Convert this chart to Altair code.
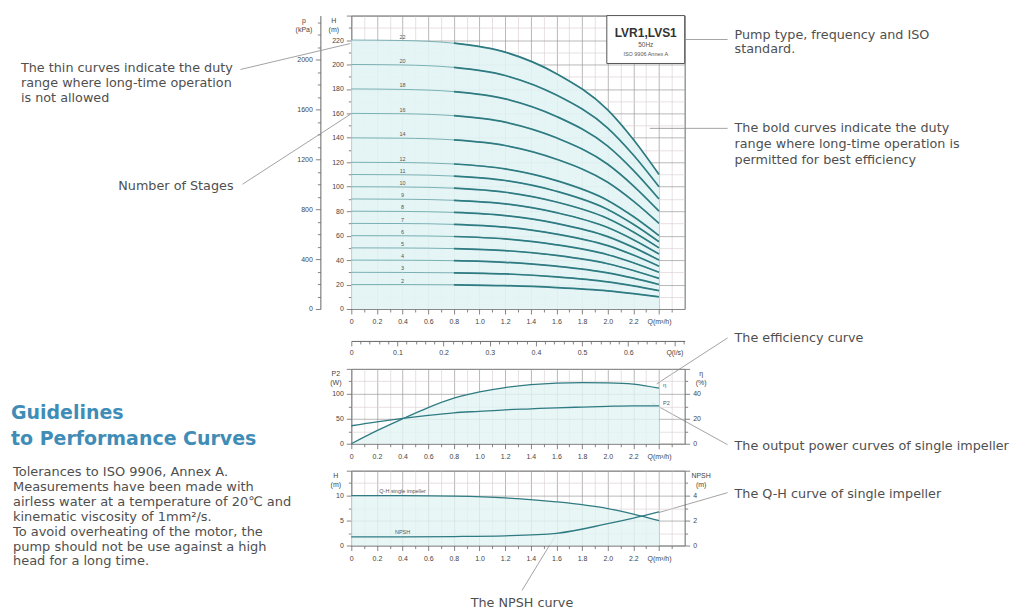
import altair as alt
import pandas as pd

FONT = "Liberation Sans"
AFONT = "DejaVu Sans"
TEAL = "#2f7b82"
TEAL_THIN = "#5f9fa4"
GRID_MAJ = "#9a9a9a"
GRID_MIN = "#ddd3d6"
TXT = "#4f4f4f"
HEAD = "#3f8db6"
OX, OY = 351, 14  # top-left of the main plot area on the page

# ---------------- data ----------------
q_main = [0, 0.4, 0.8, 1.2, 1.6, 2.0, 2.2, 2.4]
stage_counts = [2, 3, 4, 5, 6, 7, 8, 9, 10, 11, 12, 14, 16, 18, 20, 22]
h_2 = [20, 20.0, 19.8, 19.1, 17.5, 14.8, 12.6, 10]
h_3 = [30, 29.9, 29.6, 28.7, 26.3, 22.2, 18.9, 15]
h_4 = [40, 39.9, 39.5, 38.2, 35, 29.6, 25.2, 20]
h_5 = [50, 49.9, 49.4, 47.8, 43.8, 37, 31.5, 25]
h_6 = [60, 59.9, 59.3, 57.3, 52.5, 44.4, 37.8, 30]
h_7 = [70, 69.9, 69.2, 66.9, 61.3, 51.8, 44.1, 35]
h_8 = [80, 79.8, 79.0, 76.4, 70, 59.2, 50.4, 40]
h_9 = [90, 89.8, 88.9, 86, 78.8, 66.6, 56.7, 45]
h_10 = [100, 99.8, 98.8, 95.5, 87.5, 74, 63, 50]
h_11 = [110, 109.8, 108.7, 105.1, 96.3, 81.4, 69.3, 55]
h_12 = [120, 119.8, 118.6, 114.6, 105, 88.8, 75.6, 60]
h_14 = [140, 139.7, 138.3, 133.7, 122.5, 103.6, 88.2, 70]
h_16 = [160, 159.7, 158.1, 152.8, 140, 118.4, 100.8, 80]
h_18 = [180, 179.6, 177.8, 171.9, 157.5, 133.2, 113.4, 90]
h_20 = [200, 199.6, 197.6, 191, 175, 148, 126, 100]
h_22 = [220, 219.6, 217.4, 210.1, 192.5, 162.8, 138.6, 110]
head_curves = [h_2, h_3, h_4, h_5, h_6, h_7, h_8, h_9, h_10, h_11, h_12,
               h_14, h_16, h_18, h_20, h_22]

q_pw = [0, 0.2, 0.4, 0.6, 0.8, 1.0, 1.2, 1.4, 1.6, 1.8, 2.0, 2.2, 2.4]
p2_w = [36, 44, 51, 57, 62, 65, 68, 70, 72, 73.5, 75, 76, 76]
eta_pct = [0, 10.5, 20, 29, 36.5, 41.5, 45, 47.3, 48.6, 49, 48.8, 47.8, 44.5]

h_single = [10, 9.98, 9.88, 9.55, 8.75, 7.4, 6.3, 5.0]
npsh_m = [0.7, 0.7, 0.72, 0.78, 0.98, 1.75, 2.2, 2.7]

# tick positions / labels
q_ticks = [round(0.1 * i, 1) for i in range(26)]
h_ticks = list(range(0, 241, 10))
kpa_ticks = list(range(0, 2301, 100))
lps_ticks = [round(0.02 * i, 2) for i in range(37)]
p2_ticks = list(range(0, 151, 25))
eta_ticks = list(range(0, 61, 10))
hs_ticks = [0, 2.5, 5, 7.5, 10, 12.5, 15]
npsh_ticks = [0, 1, 2, 3, 4, 5, 6]

rows = []
for n, hs in zip(stage_counts, head_curves):
    for q, h in zip(q_main, hs):
        rows.append({"stages": n, "Q": q, "H": h})
curves = pd.DataFrame(rows)
pw_df = pd.DataFrame({"Q": q_pw, "P2": p2_w, "eta": eta_pct})
single_df = pd.DataFrame({"Q": q_main, "H1": h_single, "NPSH": npsh_m})
aux_df = pd.DataFrame({"lps": [lps_ticks[0]], "kpa": [kpa_ticks[0]]})
BLANK = alt.InlineData(values=[{"k": 0}])


def cond(test, a, b):
    return {"condition": {"test": test, "value": a}, "value": b}


NBSP = "\u00a0"
Q_LABEL = NBSP * 5 + "Q(m³/h)"


def q_axis():
    return alt.Axis(
        values=q_ticks, title=None, domain=False,
        labelExpr=("round(datum.value*10) % 2 != 0 || datum.value > 2.45 ? '' : "
                   "(datum.value > 2.35 ? '" + Q_LABEL + "' : "
                   "(datum.value == 0 ? '0' : format(datum.value, '.1f')))"),
        grid=True,
        gridColor=cond("round(datum.value*10) % 2 == 0", GRID_MAJ, GRID_MIN),
        gridWidth=0.7,
        tickSize=cond("round(datum.value*10) % 2 == 0", 5, 3),
        labelPadding=4, labelOverlap=False, labelFlush=False,
    )


qscale = alt.Scale(domain=[0, 2.6], nice=False, zero=False)
xq = alt.X("Q:Q", scale=qscale, axis=q_axis())


def title_kw(x, y=1):
    return dict(titleAngle=0, titleX=x, titleY=y, titleBaseline="top",
                titleAlign="center", titleFontSize=7, titleFontWeight="normal",
                titleLineHeight=9, titleColor="#444")


# ---------------- annotations (page coordinates shifted to main plot origin) ----
def text_lines(lines, x, y0, step, size, color=TXT, align="left", weight="normal", font=AFONT):
    out = []
    for i, line in enumerate(lines):
        out.append(alt.Chart(BLANK).mark_text(
            text=line, align=align, baseline="middle", fontSize=size, color=color,
            fontWeight=weight, font=font).encode(
            x=alt.value(x - OX), y=alt.value(y0 + i * step - OY)))
    return out


def leader(x1, y1, x2, y2):
    return alt.Chart(BLANK).mark_rule(color="#8c8c8c", strokeWidth=0.8).encode(
        x=alt.value(x1 - OX), y=alt.value(y1 - OY),
        x2=alt.value(x2 - OX), y2=alt.value(y2 - OY))


FS = 12.8
annot = []
annot += text_lines(["The thin curves indicate the duty",
                     "range where long-time operation",
                     "is not allowed"], 20, 67, 15, FS)
annot += text_lines(["Number of Stages"], 233, 185, 15, FS, align="right")
annot += text_lines(["Guidelines", "to Performance Curves"], 10, 412, 26, 19,
                    color=HEAD, weight="bold")
annot += text_lines(["Tolerances to ISO 9906, Annex A.",
                     "Measurements have been made with",
                     "airless water at a temperature of 20℃ and",
                     "kinematic viscosity of 1mm²/s.",
                     "To avoid overheating of the motor, the",
                     "pump should not be use against a high",
                     "head for a long time."], 12, 471, 15, 13)
annot += text_lines(["Pump type, frequency and ISO", "standard."], 735, 33, 15, FS)
annot += text_lines(["The bold curves indicate the duty",
                     "range where long-time operation is",
                     "permitted for best efficiency"], 735, 127, 16, FS)
annot += text_lines(["The efficiency curve"], 735, 337, 15, FS)
annot += text_lines(["The output power curves of single impeller"], 735, 445, 15, FS)
annot += text_lines(["The Q-H curve of single impeller"], 735, 493, 15, FS)
annot += text_lines(["The NPSH curve"], 522, 603, 15, FS, align="center")
annot += [leader(240, 68, 350, 42), leader(242, 183, 350, 113),
          leader(686, 38, 728, 38), leader(650, 127, 728, 127),
          leader(657, 383, 728, 337), leader(652, 402, 728, 444),
          leader(659, 512, 728, 492), leader(522, 590, 558, 531)]

# pump type box
box = [alt.Chart(BLANK).mark_rect(fill="white", stroke="#555", strokeWidth=1).encode(
    x=alt.value(607 - OX), x2=alt.value(685 - OX), y=alt.value(0), y2=alt.value(62 - OY))]
box += text_lines(["LVR1,LVS1"], 646, 31, 11, 12, color="#333", align="center",
                  weight="bold", font=FONT)
box += text_lines(["50Hz"], 646, 43, 11, 6.5, color="#555", align="center", font=FONT)
box += text_lines(["ISO 9906 Annex A"], 646, 53, 11, 5.5, color="#555", align="center", font=FONT)

# invisible page anchors (fix the page frame at 1015 x 609)
anchors = [alt.Chart(BLANK).mark_rule(strokeOpacity=0, color="white").encode(
    x=alt.value(-OX), x2=alt.value(1015 - OX), y=alt.value(yv)) for yv in (-OY, 609 - OY)]

# ---------------- panel 1 : Q-H curves ----------------
h_axis = alt.Axis(
    values=h_ticks, title=["H", "(m)"], domain=False,
    labelExpr="datum.value % 20 == 0 && datum.value < 230 ? '' + datum.value : ''",
    grid=True, gridColor=cond("datum.value % 20 == 0", GRID_MAJ, GRID_MIN), gridWidth=0.7,
    tickSize=cond("datum.value % 20 == 0", 5, 3), labelPadding=3, labelOverlap=False,
    **title_kw(-18))
yh = alt.Y("H:Q", scale=alt.Scale(domain=[0, 240], nice=False), axis=h_axis)

base = alt.Chart(curves).encode(x=xq, y=yh)
area = base.transform_filter("datum.stages == 22").mark_area(
    color="#e2f4f4", opacity=0.9, interpolate="monotone")
thin = base.mark_line(color=TEAL_THIN, strokeWidth=0.8, interpolate="monotone").encode(
    detail="stages:N")
bold = base.transform_filter("datum.Q >= 0.8").mark_line(
    color=TEAL, strokeWidth=1.7, interpolate="monotone").encode(detail="stages:N")
stage_lbl = base.transform_filter("datum.Q == 0.4").mark_text(
    fontSize=5.5, dy=-4, color="#555", font=FONT).encode(text="stages:N")

main_layer = alt.layer(area, thin, bold, stage_lbl, *box, *annot, *anchors)

aux = alt.Chart(aux_df).mark_point(opacity=0).encode(
    x=alt.X("lps:Q", scale=alt.Scale(domain=[0, 2.6 / 3.6], nice=False, zero=False),
            axis=alt.Axis(orient="bottom", offset=32, values=lps_ticks, title=None,
                          grid=False, domain=True,
                          labelExpr=("abs(datum.value*10 - round(datum.value*10)) < 0.001 ? "
                                     "(datum.value > 0.65 ? 'Q(l/s)' : (datum.value == 0 ? '0' : "
                                     "format(datum.value, '.1f'))) : ''"),
                          tickSize=cond("abs(datum.value*10 - round(datum.value*10)) < 0.001", 5, 3),
                          labelOverlap=False, labelFlush=False, labelPadding=3)),
    y=alt.Y("kpa:Q", scale=alt.Scale(domain=[0, 240 * 9.80665], nice=False),
            axis=alt.Axis(orient="left", offset=31, values=kpa_ticks, title=["p", "(kPa)"],
                          grid=False, domain=True,
                          labelExpr="datum.value % 400 == 0 ? '' + datum.value : ''",
                          tickSize=cond("datum.value % 400 == 0", 5, 3),
                          labelOverlap=False, labelPadding=3, **title_kw(-17))),
)

panel1 = alt.layer(main_layer, aux).resolve_scale(x="independent", y="independent").properties(
    width=334, height=294)

# ---------------- panel 2 : power & efficiency ----------------
pbase = alt.Chart(pw_df).encode(x=xq)
p_axis = alt.Axis(orient="left", values=p2_ticks, title=["P2", "(W)"], domain=False,
                  labelExpr="datum.value % 50 == 0 && datum.value < 140 ? '' + datum.value : ''",
                  grid=True, gridColor=cond("datum.value % 50 == 0", GRID_MAJ, GRID_MIN),
                  gridWidth=0.7, tickSize=cond("datum.value % 50 == 0", 5, 3),
                  labelPadding=3, labelOverlap=False, **title_kw(-16))
e_axis = alt.Axis(orient="right", values=eta_ticks, title=["η", "(%)"], domain=False,
                  labelExpr="datum.value % 20 == 0 && datum.value < 55 ? '' + datum.value : ''",
                  grid=False, tickSize=cond("datum.value % 20 == 0", 5, 3),
                  labelPadding=3, labelOverlap=False, **title_kw(16))
eta_scale = alt.Scale(domain=[0, 60], nice=False)
yp = alt.Y("P2:Q", scale=alt.Scale(domain=[0, 150], nice=False), axis=p_axis)
ye = alt.Y("eta:Q", scale=eta_scale, axis=e_axis)

e_area = pbase.mark_area(color="#e2f4f4", opacity=0.8, interpolate="monotone").encode(
    y=alt.Y("eta:Q", scale=eta_scale, axis=None))
p_line = pbase.mark_line(color=TEAL, strokeWidth=1.3, interpolate="monotone").encode(y=yp)
p_lbl = pbase.transform_filter("datum.Q == 2.4").mark_text(
    text="P2", fontSize=5.5, dx=4, dy=-3, align="left", color="#555", font=FONT).encode(y=yp)
e_line = pbase.mark_line(color=TEAL, strokeWidth=1.3, interpolate="monotone").encode(y=ye)
e_lbl = pbase.transform_filter("datum.Q == 2.4").mark_text(
    text="η", fontSize=6, dx=4, dy=-3, align="left", color="#555", font=FONT).encode(y=ye)

panel2 = alt.layer(e_area, alt.layer(p_line, p_lbl), alt.layer(e_line, e_lbl)).resolve_scale(
    y="independent").properties(width=334, height=75)

# ---------------- panel 3 : single impeller Q-H and NPSH ----------------
sbase = alt.Chart(single_df).encode(x=xq)
hs_axis = alt.Axis(orient="left", values=hs_ticks, title=["H", "(m)"], domain=False,
                   labelExpr="datum.value % 5 == 0 && datum.value < 14 ? '' + datum.value : ''",
                   grid=True, gridColor=cond("datum.value % 5 == 0", GRID_MAJ, GRID_MIN),
                   gridWidth=0.7, tickSize=cond("datum.value % 5 == 0", 5, 3),
                   labelPadding=3, labelOverlap=False, **title_kw(-16))
n_axis = alt.Axis(orient="right", values=npsh_ticks, title=["NPSH", "(m)"], domain=False,
                  labelExpr="datum.value % 2 == 0 && datum.value < 5.5 ? '' + datum.value : ''",
                  grid=False, tickSize=cond("datum.value % 2 == 0", 5, 3),
                  labelPadding=3, labelOverlap=False, **title_kw(16))
yhs = alt.Y("H1:Q", scale=alt.Scale(domain=[0, 15], nice=False), axis=hs_axis)
yn = alt.Y("NPSH:Q", scale=alt.Scale(domain=[0, 6], nice=False), axis=n_axis)

hs_area = sbase.mark_area(color="#e2f4f4", opacity=0.8, interpolate="monotone").encode(y=yhs)
hs_line = sbase.mark_line(color=TEAL, strokeWidth=1.3, interpolate="monotone").encode(y=yhs)
hs_lbl = sbase.transform_filter("datum.Q == 0.4").mark_text(
    text="Q-H single impeller", fontSize=5.5, dy=-5, color="#555", font=FONT).encode(y=yhs)
n_line = sbase.mark_line(color=TEAL, strokeWidth=1.3, interpolate="monotone").encode(y=yn)
n_lbl = sbase.transform_filter("datum.Q == 0.4").mark_text(
    text="NPSH", fontSize=5.5, dy=-5, color="#555", font=FONT).encode(y=yn)

panel3 = alt.layer(alt.layer(hs_area, hs_line, hs_lbl), alt.layer(n_line, n_lbl)).resolve_scale(
    y="independent").properties(width=334, height=75)

lower = alt.vconcat(panel2, panel3, spacing=27, bounds="flush")
chart = alt.vconcat(panel1, lower, spacing=60, bounds="flush").properties(
    padding=0, background="white"
).configure_view(stroke="#666", strokeWidth=1).configure_axis(
    labelFont=FONT, titleFont=FONT, labelFontSize=7, labelColor="#444",
    tickColor="#666", tickWidth=0.8, domainColor="#666", domainWidth=1
)

chart.save("out.html", embed_options={"renderer": "svg", "actions": False})
